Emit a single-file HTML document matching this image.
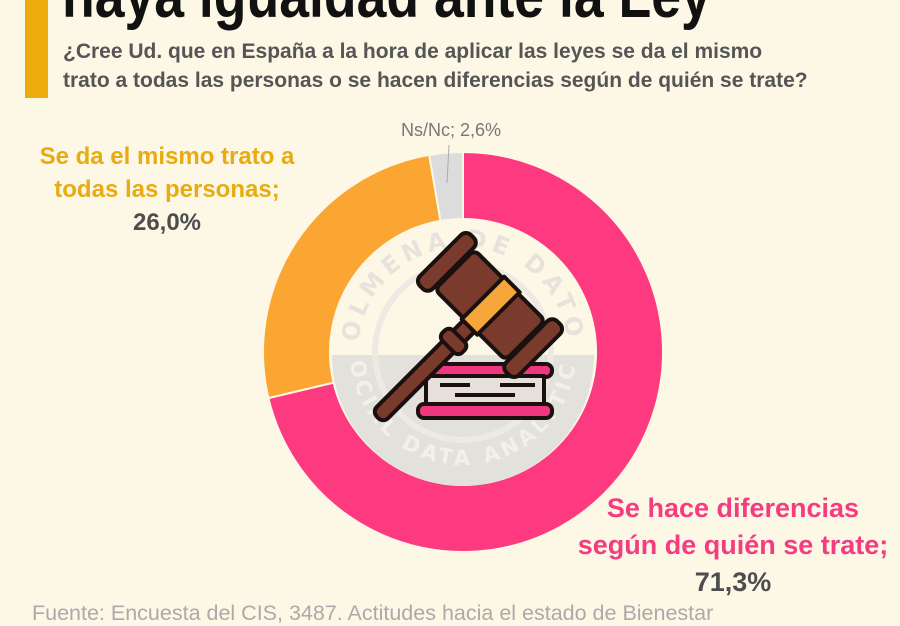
<!DOCTYPE html>
<html><head><meta charset="utf-8"><style>
html,body{margin:0;padding:0}
body{width:900px;height:620px;background:#fdf7e6;position:relative;overflow:hidden;font-family:"Liberation Sans",sans-serif}
.bar{position:absolute;left:25px;top:0;width:23px;height:98px;background:#eeac0c}
.title{position:absolute;left:62px;top:-40px;font-size:63px;font-weight:bold;color:#111;white-space:nowrap;transform:scaleX(0.85);transform-origin:0 0}
.sub{position:absolute;left:63px;top:37px;font-size:21px;font-weight:bold;color:#555;line-height:29px;white-space:nowrap}
.lbl{position:absolute;text-align:center;font-weight:bold;white-space:nowrap}
</style></head><body>
<div class="bar"></div>
<div class="title">haya igualdad ante la Ley</div>
<div class="sub">¿Cree Ud. que en España a la hora de aplicar las leyes se da el mismo<br>trato a todas las personas o se hacen diferencias según de quién se trate?</div>
<svg width="900" height="620" style="position:absolute;left:0;top:0">
<defs>
<path id="topArc" d="M358,352 A105,105 0 0 1 568,352"/>
<path id="botArc" d="M350,352 A113,113 0 0 0 576,352"/>
</defs>
<path d="M463,152 A200,200 0 1 1 268.4,398.1 L333.6,382.6 A133,133 0 1 0 463,219 Z" fill="#fd3a7f" stroke="#fdf7e6" stroke-width="2"/>
<path d="M268.4,398.1 A200,200 0 0 1 429.2,154.9 L440.5,220.9 A133,133 0 0 0 333.6,382.6 Z" fill="#fba532" stroke="#fdf7e6" stroke-width="2"/>
<path d="M429.2,154.9 A200,200 0 0 1 463,152 L463,219 A133,133 0 0 0 440.5,220.9 Z" fill="#dcdcdc" stroke="#fdf7e6" stroke-width="2"/>
<line x1="449" y1="145" x2="447" y2="183" stroke="#aaa" stroke-width="1"/>
<text x="451" y="136" text-anchor="middle" font-family="Liberation Sans, sans-serif" font-size="18" fill="#777">Ns/Nc; 2,6%</text>
<circle cx="463" cy="352" r="131" fill="#fdf7e6"/>
<path d="M332,355 L594,355 A131,131 0 0 1 332,355 Z" fill="#e3e1dc"/>
<circle cx="463" cy="352" r="88" fill="none" stroke="#eceae3" stroke-width="6"/>
<text font-family="DejaVu Sans, sans-serif" font-size="24" font-weight="bold" fill="#e6e3dc" letter-spacing="5"><textPath href="#topArc" startOffset="50%" text-anchor="middle">COLMENA DE DATOS</textPath></text>
<text font-family="DejaVu Sans, sans-serif" font-size="21" font-weight="bold" fill="#f3f0ea" letter-spacing="4"><textPath href="#botArc" startOffset="50%" text-anchor="middle">SOCIAL DATA ANALYTICS</textPath></text>
<g stroke="#1a1010" stroke-width="4" stroke-linejoin="round">
<rect x="418" y="364" width="134" height="13" rx="6" fill="#f0367d"/>
<rect x="426" y="376" width="118" height="29" fill="#e6dfda"/>
<rect x="418" y="404" width="134" height="14" rx="6" fill="#f0367d"/>
<line x1="440" y1="385" x2="470" y2="385"/>
<line x1="455" y1="395" x2="515" y2="395"/>
<line x1="500" y1="385" x2="535" y2="385"/>
</g>
<g transform="translate(490,305) rotate(45)" stroke="#1a1010" stroke-width="4" stroke-linejoin="round">
<rect x="-8" y="24" width="16" height="135" rx="7" fill="#7a3b2c"/>
<rect x="-14" y="44" width="28" height="15" rx="6" fill="#7a3b2c"/>
<rect x="-50" y="-28" width="100" height="56" rx="6" fill="#7a3b2c"/>
<rect x="-70" y="-36" width="18" height="72" rx="7" fill="#7a3b2c"/>
<rect x="52" y="-36" width="18" height="72" rx="7" fill="#7a3b2c"/>
<rect x="-10" y="-30" width="22" height="60" fill="#f7a73a"/>
</g>
</svg>
<div class="lbl" style="left:0;width:334px;top:140px;font-size:24px;line-height:33px;color:#e9ab12">Se da el mismo trato a<br>todas las personas;<br><span style="color:#4d4d4d">26,0%</span></div>
<div class="lbl" style="left:570px;width:326px;top:490px;font-size:27px;line-height:37px;color:#f43c80">Se hace diferencias<br>según de quién se trate;<br><span style="color:#4d4d4d">71,3%</span></div>
<div style="position:absolute;left:32px;top:601px;font-size:21.5px;color:#aaa;white-space:nowrap">Fuente: Encuesta del CIS, 3487. Actitudes hacia el estado de Bienestar</div>
</body></html>
